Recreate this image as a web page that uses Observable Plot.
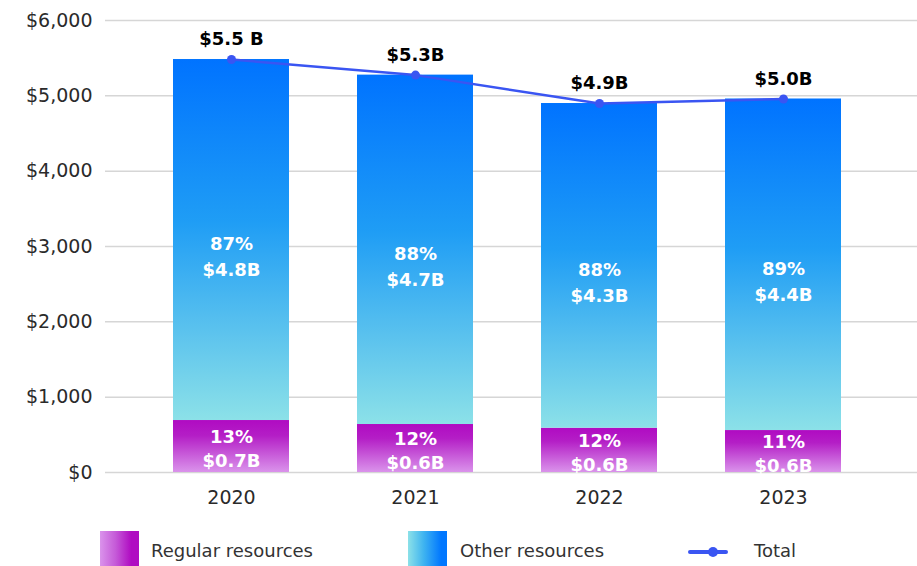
<!DOCTYPE html>
<html>
<head>
<meta charset="utf-8">
<script src="https://cdn.jsdelivr.net/npm/d3@7"></script>
<script src="https://cdn.jsdelivr.net/npm/@observablehq/plot@0.6"></script>
<style>
  body { margin: 0; background: #fff; }
  #wrap { position: relative; width: 917px; height: 566px; overflow: hidden; font-family: "DejaVu Sans", sans-serif; }
  #wrap svg text { font-family: "DejaVu Sans", sans-serif; }
  .sw { position: absolute; }
  .lt { position: absolute; font-size: 18px; color: #333; line-height: 20px; white-space: nowrap; }
</style>
</head>
<body>
<div id="wrap"></div>
<script>
const years = ["2020", "2021", "2022", "2023"];
const regular = [690, 637, 588, 557];      // $M, Regular resources
const other = [4792, 4638, 4310, 4401];    // $M, Other resources
const totalLabels = ["$5.5 B", "$5.3B", "$4.9B", "$5.0B"];
const regShare = ["13%", "12%", "12%", "11%"];
const regLabels = ["$0.7B", "$0.6B", "$0.6B", "$0.6B"];
const otherShare = ["87%", "88%", "88%", "89%"];
const otherLabels = ["$4.8B", "$4.7B", "$4.3B", "$4.4B"];
const yTicks = [0, 1000, 2000, 3000, 4000, 5000, 6000];
const legendItems = ["Regular resources", "Other resources", "Total"];

const rows = years.map((year, i) => ({
  year,
  reg: regular[i],
  other: other[i],
  total: regular[i] + other[i],
  tLabel: totalLabels[i],
  rLabel: regShare[i] + "\n" + regLabels[i],
  oLabel: otherShare[i] + "\n" + otherLabels[i]
}));

const gradients = () => {
  const defs = d3.create("svg:defs");
  const go = defs.append("linearGradient").attr("id", "gOther")
    .attr("x1", 0).attr("y1", 0).attr("x2", 0).attr("y2", 1);
  [[0, "#0073ff"], [0.45, "#1f9df5"], [1, "#8ce1e8"]].forEach(([o, c]) =>
    go.append("stop").attr("offset", o).attr("stop-color", c));
  const gr = defs.append("linearGradient").attr("id", "gReg")
    .attr("x1", 0).attr("y1", 0).attr("x2", 0).attr("y2", 1);
  [[0, "#b00bc2"], [0.3, "#b41ec6"], [1, "#da93eb"]].forEach(([o, c]) =>
    gr.append("stop").attr("offset", o).attr("stop-color", c));
  return defs.node();
};

const lineColor = "#3a55f2";

const chart = Plot.plot({
  width: 917,
  height: 520,
  marginLeft: 105,
  marginRight: 0,
  marginTop: 20,
  marginBottom: 48,
  style: { fontFamily: "DejaVu Sans", fontSize: "19px", color: "#2a2a2a", background: "transparent" },
  x: { domain: years, range: [173, 841], paddingInner: 0.37, paddingOuter: 0, tickSize: 0, tickPadding: 18, label: null },
  y: { domain: [0, 6000], ticks: yTicks, tickFormat: d => "$" + d3.format(",")(d), tickSize: 0, tickPadding: 13, label: null },
  marks: [
    gradients,
    Plot.ruleY(yTicks, { stroke: "#d6d6d6", strokeWidth: 1.5 }),
    Plot.barY(rows, { x: "year", y1: 0, y2: "reg", fill: "url(#gReg)" }),
    Plot.barY(rows, { x: "year", y1: "reg", y2: "total", fill: "url(#gOther)" }),
    Plot.line(rows, { x: "year", y: "total", stroke: lineColor, strokeWidth: 2.5 }),
    Plot.dot(rows, { x: "year", y: "total", r: 4.5, fill: lineColor }),
    Plot.text(rows, { x: "year", y: "total", text: "tLabel", dy: -20, fontSize: 18, fontWeight: "bold", fill: "#000" }),
    Plot.text(rows, { x: "year", y: d => d.reg + d.other / 2, text: "oLabel", dy: 15, lineHeight: 1.44, fontSize: 18, fontWeight: "bold", fill: "#fff" }),
    Plot.text(rows, { x: "year", y: d => d.reg / 2, text: "rLabel", dy: 1, lineHeight: 1.33, fontSize: 18, fontWeight: "bold", fill: "#fff" })
  ]
});

const wrap = document.getElementById("wrap");
chart.style.position = "absolute";
chart.style.left = "0px";
chart.style.top = "0px";
wrap.appendChild(chart);

function addDiv(cls, css, text) {
  const d = document.createElement("div");
  d.className = cls;
  Object.assign(d.style, css);
  if (text) d.textContent = text;
  wrap.appendChild(d);
  return d;
}
// Legend
addDiv("sw", { left: "100px", top: "531px", width: "39px", height: "40px", background: "linear-gradient(to right, #da93eb 0%, #c55ad8 40%, #b00bc2 80%)" });
addDiv("lt", { left: "151px", top: "541px" }, legendItems[0]);
addDiv("sw", { left: "408px", top: "531px", width: "39px", height: "40px", background: "linear-gradient(to right, #8ce1e8 0%, #3fb4f0 40%, #0077ff 85%)" });
addDiv("lt", { left: "460px", top: "541px" }, legendItems[1]);
addDiv("sw", { left: "688px", top: "550px", width: "40px", height: "4px", background: lineColor, borderRadius: "2px" });
addDiv("sw", { left: "708px", top: "547px", width: "10px", height: "10px", background: lineColor, borderRadius: "50%" });
addDiv("lt", { left: "754px", top: "541px" }, legendItems[2]);
</script>
</body>
</html>
